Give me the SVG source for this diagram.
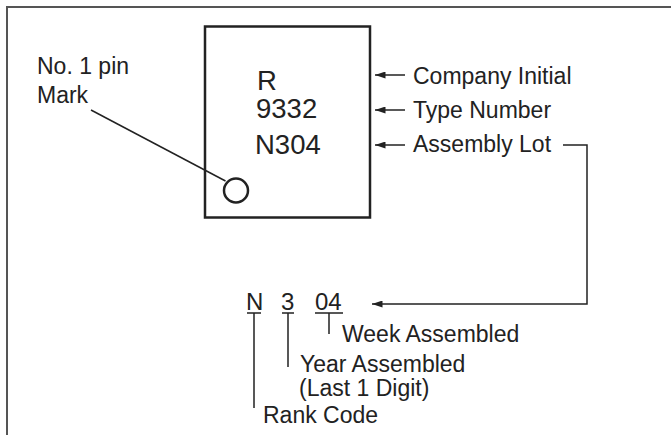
<svg xmlns="http://www.w3.org/2000/svg" width="671" height="435" viewBox="0 0 671 435">
<defs>
<style>
text{font-family:"Liberation Sans",Arial,sans-serif;fill:#222}
.lbl{font-size:23px}
.chip{font-size:27.5px}
.code{font-size:24px}
.ln{fill:none;stroke:#222;stroke-width:1.5}
</style>
<marker id="ah" viewBox="0 0 12 8" refX="12" refY="4" markerWidth="12" markerHeight="7" markerUnits="userSpaceOnUse" orient="auto-start-reverse">
<path d="M0,0 L12,4 L0,8 Z" fill="#222"/>
</marker>
</defs>
<rect width="671" height="435" fill="#fff"/>
<path d="M7,436 V7 H672" fill="none" stroke="#555" stroke-width="2"/>
<g id="chip">
<rect x="205" y="26.5" width="165" height="191" fill="none" stroke="#222" stroke-width="2.5"/>
<text class="chip" x="257" y="90">R</text>
<text class="chip" x="256" y="118">9332</text>
<text class="chip" x="255" y="154">N304</text>
<circle cx="236" cy="190.5" r="12" fill="none" stroke="#222" stroke-width="2.5"/>
</g>
<g id="pin-label">
<text class="lbl" x="37" y="74">No. 1 pin</text>
<text class="lbl" x="37" y="103">Mark</text>
</g>
<g id="label-company"><text class="lbl" x="413" y="84">Company Initial</text></g>
<g id="label-type"><text class="lbl" x="413" y="118">Type Number</text></g>
<g id="label-lot"><text class="lbl" x="413" y="152">Assembly Lot</text></g>
<g id="lot-code">
<text class="code" x="246" y="310">N</text>
<text class="code" x="281" y="310">3</text>
<text class="code" x="315" y="310">04</text>
</g>
<g id="label-week"><text class="lbl" x="342" y="342">Week Assembled</text></g>
<g id="label-year">
<text class="lbl" x="300" y="372">Year Assembled</text>
<text class="lbl" x="299" y="396">(Last 1 Digit)</text>
</g>
<g id="label-rank"><text class="lbl" x="263" y="423">Rank Code</text></g>
<g id="connectors">
<line class="ln" x1="91" y1="110" x2="225.5" y2="181"/>
<line class="ln" x1="375" y1="75" x2="405" y2="75" marker-start="url(#ah)"/>
<line class="ln" x1="375" y1="110" x2="405" y2="110" marker-start="url(#ah)"/>
<line class="ln" x1="375" y1="145" x2="405" y2="145" marker-start="url(#ah)"/>
<path class="ln" d="M563,145 H587 V304 H372" marker-end="url(#ah)"/>
<path class="ln" d="M247,313 H261 M254,313 V408"/>
<path class="ln" d="M282,313 H294 M288,313 V367"/>
<path class="ln" d="M315,313 H343 M329,313 V334"/>
</g>
</svg>
